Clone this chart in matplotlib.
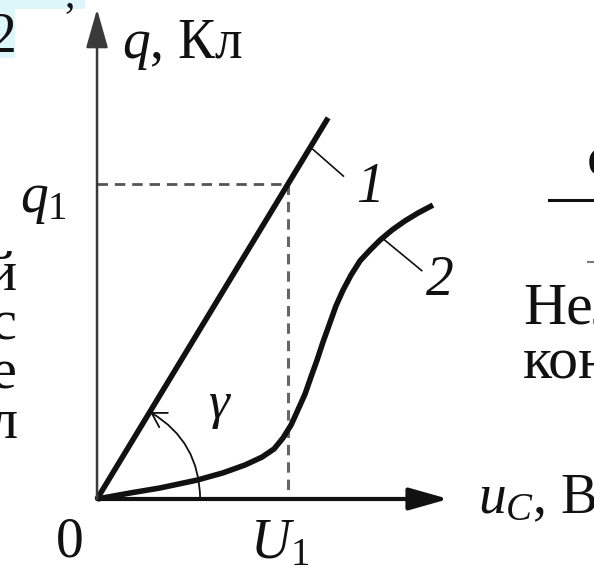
import matplotlib
matplotlib.use("Agg")
import matplotlib.pyplot as plt
from matplotlib.patches import Rectangle

plt.rcParams["font.family"] = ["Liberation Serif", "DejaVu Serif"]
plt.rcParams["mathtext.fontset"] = "custom"
plt.rcParams["mathtext.rm"] = "Liberation Serif"
plt.rcParams["mathtext.it"] = "Liberation Serif:italic"
plt.rcParams["lines.scale_dashes"] = False

# Charge q versus capacitor voltage u_C (units of q1 and U1)
U1 = 1.0
q1 = 1.0

# 1 - linear capacitor
u_line1 = [0.0, 1.21]
q_line1 = [0.0, 1.21]

# 2 - nonlinear capacitor
u_curve2 = [0.0, 0.173, 0.330, 0.524, 0.660, 0.775, 0.864, 0.927, 0.974,
            1.016, 1.052, 1.089, 1.120, 1.152, 1.183, 1.215, 1.251, 1.288,
            1.330, 1.377, 1.429, 1.482, 1.545, 1.613, 1.681, 1.759]
q_curve2 = [0.0, 0.019, 0.035, 0.060, 0.083, 0.108, 0.133, 0.159, 0.194,
            0.235, 0.283, 0.333, 0.387, 0.441, 0.498, 0.552, 0.613, 0.663,
            0.711, 0.756, 0.790, 0.822, 0.854, 0.883, 0.908, 0.933]

u_axis_end = 1.84
q_axis_end = 1.555

W, H = 594, 579
fig = plt.figure(figsize=(W / 100, H / 100), dpi=100)
fig.patch.set_facecolor("white")

# page overlay (pixel coordinates) for the surrounding text of the page
pg = fig.add_axes([0, 0, 1, 1])
pg.set_xlim(0, W)
pg.set_ylim(H, 0)
pg.axis("off")

ax = fig.add_axes([0, 0, 1, 1])
ax.set_xlim(-0.508, 2.602)
ax.set_ylim(-0.254, 1.584)
ax.axis("off")
ax.patch.set_alpha(0)

ink = "#111111"
fs = 40

# axes with arrows
ax.annotate("", xy=(u_axis_end, 0), xytext=(0, 0),
            arrowprops=dict(arrowstyle="-|>,head_length=1.2,head_width=0.34",
                            lw=3.0, color=ink, shrinkA=0, shrinkB=0,
                            mutation_scale=20))
ax.annotate("", xy=(0, q_axis_end), xytext=(0, 0),
            arrowprops=dict(arrowstyle="-|>,head_length=1.2,head_width=0.34",
                            lw=1.8, color="#3a3a3a", shrinkA=0, shrinkB=0,
                            mutation_scale=20))

# dashed guide lines at q1 and U1
ax.plot([0, U1], [q1, q1], color="#555555", lw=2.0, dashes=(7.5, 5))
ax.plot([U1, U1], [q1, 0], color="#666666", lw=2.2, dashes=(7.5, 5))

# characteristics
ax.plot(u_line1, q_line1, color=ink, lw=4.0, solid_capstyle="butt")
ax.plot(u_curve2, q_curve2, color=ink, lw=4.0, solid_capstyle="butt",
        solid_joinstyle="round")

# angle gamma
ax.annotate("", xy=(0.278, 0.276), xytext=(0.54, 0.0),
            arrowprops=dict(arrowstyle="->,head_length=0.5,head_width=0.3",
                            connectionstyle="arc3,rad=0.28", lw=1.3,
                            color=ink, shrinkA=0, shrinkB=0,
                            mutation_scale=20))
ax.text(0.634, 0.298, "γ", fontsize=38, style="italic", color=ink,
        ha="center", va="center")

# curve labels with leader lines
ax.plot([1.13, 1.29], [1.11, 1.025], color=ink, lw=1.2)
ax.text(1.429, 0.987, "1", fontsize=fs, style="italic", color=ink,
        ha="center", va="center")
ax.plot([1.50, 1.70], [0.825, 0.725], color=ink, lw=1.2)
ax.text(1.796, 0.692, "2", fontsize=fs, style="italic", color=ink,
        ha="center", va="center")

# axis labels
ax.text(0.131, 1.44, r"$q$, Кл", fontsize=fs, color=ink,
        ha="left", va="center")
ax.text(1.995, 0.0, r"$u_C$, В", fontsize=fs, color=ink, ha="left", va="center")
ax.text(-0.283, q1 - 0.05, r"$q_1$", fontsize=fs, color=ink,
        ha="center", va="center")
ax.text(0.958, -0.062, r"$U_1$", fontsize=fs, color=ink, ha="center", va="top")
ax.text(-0.141, -0.055, "0", fontsize=fs, color=ink, ha="center", va="top")

# surrounding page text
pg.add_patch(Rectangle((0, 0), 85, 9, color="#dcf6f9", lw=0))
pg.add_patch(Rectangle((0, 0), 15, 58, color="#dcf6f9", lw=0))
pg.text(16, 52, "2", fontsize=fs, color=ink, ha="right", va="baseline")
pg.text(70, 6, ",", fontsize=30, color=ink, ha="center", va="baseline")
pg.text(17, 250, "й\nс\nе\nл", fontsize=42, color=ink, ha="right", va="top",
        multialignment="right", linespacing=0.93)
pg.plot([549, W], [200, 200], color=ink, lw=2.2)
pg.text(587, 176, "с", fontsize=42, color=ink, ha="left", va="baseline")
pg.plot([588, W], [262, 262], color="#777777", lw=1.5)
pg.text(523, 283, "Нел\nкон", fontsize=43, color=ink, ha="left", va="top",
        linespacing=1.02)

fig.savefig("out.png", dpi=100, facecolor="white")
